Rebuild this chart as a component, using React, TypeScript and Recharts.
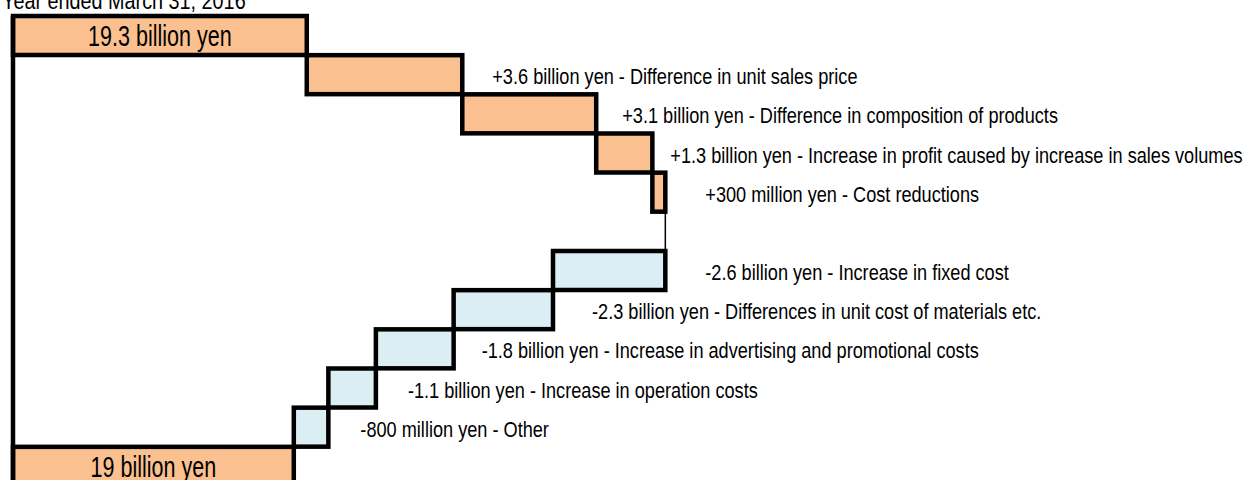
import React from 'react';
import { BarChart, Bar, XAxis, YAxis, ReferenceLine } from 'recharts';

// ---- data ----
const TITLE = 'Year ended March 31, 2016';
const START_VALUE = 19.3;
const START_LABEL = '19.3 billion yen';
const END_LABEL = '19 billion yen';
const DELTA_VALUES = [3.6, 3.1, 1.3, 0.3, -2.6, -2.3, -1.8, -1.1, -0.8];
const DELTA_LABELS = [
  '+3.6 billion yen - Difference in unit sales price',
  '+3.1 billion yen - Difference in composition of products',
  '+1.3 billion yen - Increase in profit caused by increase in sales volumes',
  '+300 million yen - Cost reductions',
  '-2.6 billion yen - Increase in fixed cost',
  '-2.3 billion yen - Differences in unit cost of materials etc.',
  '-1.8 billion yen - Increase in advertising and promotional costs',
  '-1.1 billion yen - Increase in operation costs',
  '-800 million yen - Other',
];
const AXIS_DOMAIN: [number, number] = [12.5, 40];

// ---- layout / style ----
const LABEL_DX = [30, 26, 18, 40, 40, 39, 28, 32, 32];
const FONT = "'Liberation Sans', Arial, sans-serif";
const NARROW = 0.825; // horizontal squeeze to mimic Arial Narrow
const POS_FILL = '#FAC090';
const NEG_FILL = '#DAEEF3';
const STROKE_W = 4.5;

type Row = {
  name: string;
  kind: 'total' | 'pos' | 'neg' | 'connector';
  range: number | [number, number];
  label: string;
  li: number;
};

function buildRows(): Row[] {
  const rows: Row[] = [];
  rows.push({ name: 'start', kind: 'total', range: START_VALUE, label: START_LABEL, li: -1 });
  let cum = START_VALUE;
  let prevPos = true;
  DELTA_VALUES.forEach((d, i) => {
    if (d < 0 && prevPos) {
      rows.push({ name: 'gap', kind: 'connector', range: [cum, cum], label: '', li: -1 });
    }
    prevPos = d >= 0;
    const next = Math.round((cum + d) * 10) / 10;
    rows.push({
      name: 'd' + i,
      kind: d >= 0 ? 'pos' : 'neg',
      range: [Math.min(cum, next), Math.max(cum, next)],
      label: DELTA_LABELS[i],
      li: i,
    });
    cum = next;
  });
  rows.push({ name: 'end', kind: 'total', range: cum, label: END_LABEL, li: -1 });
  return rows;
}

const rows = buildRows();

const SqText = ({ x, y, size, sx, anchor, children }: any) => (
  <text
    transform={`translate(${x},${y}) scale(${sx},1)`}
    textAnchor={anchor || 'start'}
    fontFamily={FONT}
    fontSize={size}
    fill="#000"
  >
    {children}
  </text>
);

const BarShape = (props: any) => {
  const { x, y, width, height, payload } = props;
  const row: Row = payload;
  if (row.kind === 'connector') {
    return <line x1={x} x2={x} y1={y} y2={y + height} stroke="#000" strokeWidth={1.5} />;
  }
  const fill = row.kind === 'neg' ? NEG_FILL : POS_FILL;
  const cy = y + height / 2;
  return (
    <g>
      <rect x={x} y={y} width={width} height={height} fill={fill} stroke="#000" strokeWidth={STROKE_W} />
      {row.kind === 'total' ? (
        <SqText x={x + width / 2} y={cy + 10.8} size={30} sx={NARROW * 0.87} anchor="middle">
          {row.label}
        </SqText>
      ) : (
        <SqText x={x + width + LABEL_DX[row.li]} y={cy + 9.5} size={22} sx={NARROW}>
          {row.label}
        </SqText>
      )}
    </g>
  );
};

export default function App() {
  return (
    <div style={{ position: 'absolute', left: 0, top: 0, width: 1248, height: 480, overflow: 'hidden', background: '#fff' }}>
      <BarChart
        width={1248}
        height={500}
        data={rows}
        layout="vertical"
        barCategoryGap={0}
        barGap={0}
        margin={{ top: 16, right: 47, bottom: 14, left: 13 }}
        style={{ overflow: 'visible' }}
      >
        <XAxis type="number" domain={AXIS_DOMAIN} hide />
        <YAxis type="category" dataKey="name" width={0} hide />
        <ReferenceLine x={AXIS_DOMAIN[0]} stroke="#000" strokeWidth={STROKE_W} ifOverflow="visible" />
        <Bar dataKey="range" isAnimationActive={false} shape={BarShape} />
      </BarChart>
      <svg width={1248} height={480} style={{ position: 'absolute', left: 0, top: 0, pointerEvents: 'none' }}>
        <SqText x={2} y={9} size={24} sx={NARROW}>
          {TITLE}
        </SqText>
      </svg>
    </div>
  );
}
